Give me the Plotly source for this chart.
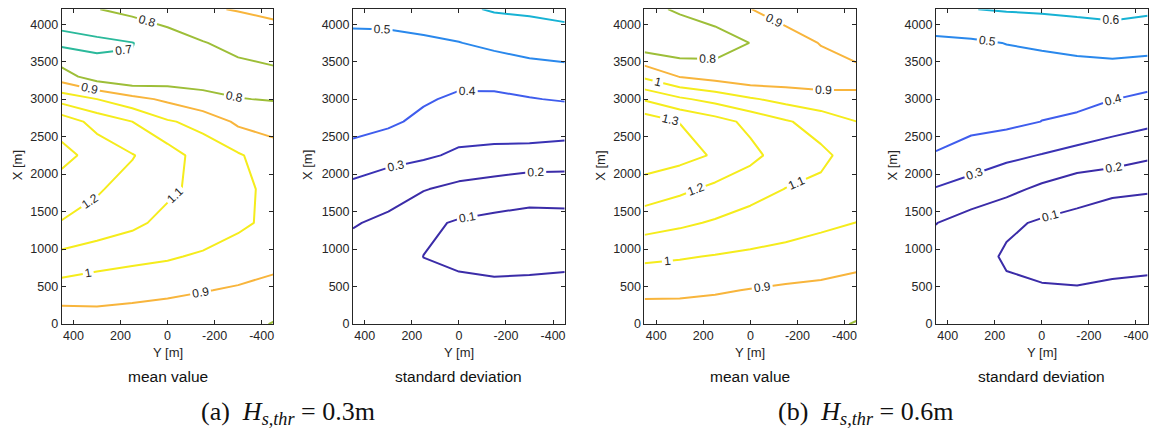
import plotly.graph_objects as go

# Grid: lateral position Y [m] (columns, listed from +450 to -450) and
# along-shore position X [m] (rows, listed from bottom to top)
Y_COLS = [450, 300, 150, 0, -150, -300, -450]
X_ROWS = [0, 450, 900, 1350, 1800, 2250, 2700, 3000, 3300, 3750, 4200]

# (a) Hs,thr = 0.3 m -- mean value
MEAN_03 = [
    [0.835, 0.840, 0.843, 0.835, 0.830, 0.825, 0.796],
    [0.955, 0.955, 0.934, 0.921, 0.904, 0.890, 0.855],
    [1.075, 1.036, 1.026, 1.011, 0.986, 0.955, 0.950],
    [1.195, 1.172, 1.123, 1.070, 1.065, 1.020, 0.975],
    [1.260, 1.208, 1.170, 1.120, 1.070, 1.025, 0.975],
    [1.327, 1.267, 1.205, 1.147, 1.054, 1.010, 0.950],
    [1.260, 1.162, 1.100, 1.010, 0.970, 0.881, 0.855],
    [1.060, 1.000, 0.932, 0.880, 0.820, 0.803, 0.795],
    [0.846, 0.748, 0.709, 0.740, 0.770, 0.760, 0.770],
    [0.680, 0.679, 0.698, 0.740, 0.795, 0.830, 0.862],
    [0.735, 0.797, 0.829, 0.869, 0.890, 0.905, 0.917],
]

# (a) Hs,thr = 0.3 m -- standard deviation
STD_03 = [
    [0.150, 0.140, 0.140, 0.140, 0.140, 0.145, 0.150],
    [0.160, 0.150, 0.130, 0.125, 0.120, 0.125, 0.130],
    [0.175, 0.160, 0.099, 0.080, 0.070, 0.070, 0.075],
    [0.205, 0.185, 0.120, 0.090, 0.075, 0.075, 0.078],
    [0.275, 0.230, 0.205, 0.175, 0.158, 0.130, 0.130],
    [0.360, 0.340, 0.315, 0.284, 0.270, 0.270, 0.265],
    [0.440, 0.415, 0.380, 0.350, 0.360, 0.353, 0.344],
    [0.450, 0.425, 0.410, 0.385, 0.393, 0.396, 0.407],
    [0.465, 0.440, 0.440, 0.426, 0.413, 0.444, 0.450],
    [0.485, 0.480, 0.485, 0.497, 0.527, 0.547, 0.568],
    [0.520, 0.530, 0.550, 0.585, 0.608, 0.614, 0.620],
]

# (b) Hs,thr = 0.6 m -- mean value
MEAN_06 = [
    [0.834, 0.835, 0.835, 0.830, 0.825, 0.820, 0.795],
    [0.923, 0.921, 0.910, 0.896, 0.885, 0.880, 0.851],
    [1.019, 1.008, 0.995, 0.982, 0.966, 0.946, 0.943],
    [1.145, 1.118, 1.090, 1.066, 1.046, 1.022, 0.999],
    [1.256, 1.220, 1.178, 1.133, 1.098, 1.080, 1.050],
    [1.360, 1.334, 1.290, 1.229, 1.150, 1.120, 1.060],
    [1.360, 1.298, 1.241, 1.173, 1.110, 1.060, 1.001],
    [1.190, 1.117, 1.065, 1.012, 0.967, 0.934, 0.920],
    [0.982, 0.897, 0.864, 0.830, 0.840, 0.850, 0.870],
    [0.731, 0.719, 0.741, 0.802, 0.850, 0.905, 0.941],
    [0.770, 0.815, 0.862, 0.898, 0.951, 0.970, 0.990],
]

# (b) Hs,thr = 0.6 m -- standard deviation
STD_06 = [
    [0.140, 0.140, 0.135, 0.130, 0.130, 0.135, 0.140],
    [0.150, 0.145, 0.120, 0.105, 0.105, 0.115, 0.120],
    [0.170, 0.150, 0.085, 0.083, 0.070, 0.070, 0.075],
    [0.202, 0.161, 0.120, 0.087, 0.070, 0.075, 0.075],
    [0.294, 0.259, 0.226, 0.180, 0.140, 0.109, 0.104],
    [0.396, 0.357, 0.321, 0.296, 0.266, 0.255, 0.217],
    [0.428, 0.430, 0.424, 0.399, 0.379, 0.336, 0.321],
    [0.447, 0.447, 0.440, 0.420, 0.429, 0.402, 0.381],
    [0.466, 0.460, 0.460, 0.450, 0.450, 0.455, 0.439],
    [0.477, 0.486, 0.502, 0.515, 0.532, 0.540, 0.538],
    [0.590, 0.598, 0.608, 0.613, 0.621, 0.630, 0.615],
]

PANEL_TITLES = ["mean value", "standard deviation", "mean value", "standard deviation"]
CAPTIONS = ["(a)  <i>H</i><sub><i>s,thr</i></sub> = 0.3m",
            "(b)  <i>H</i><sub><i>s,thr</i></sub> = 0.6m"]
X_TICKS = [400, 200, 0, -200, -400]
X_TICK_TEXT = ["400", "200", "0", "-200", "-400"]
Y_TICKS = [0, 500, 1000, 1500, 2000, 2500, 3000, 3500, 4000]

# contour levels and the line colour of each level
MEAN_LEVELS = [0.6, 0.7, 0.8, 0.9, 1.0, 1.1, 1.2, 1.3, 1.4]
MEAN_COLORS = ["#17a9c9", "#2bb99b", "#9dbe38", "#f8b53c", "#f5ec1c",
               "#f5ec1c", "#f5ec1c", "#f5ec1c", "#f5ec1c"]
STD_LEVELS = [0.1, 0.2, 0.3, 0.4, 0.5, 0.6, 0.7]
STD_COLORS = ["#3b2ca8", "#3b2ca8", "#3a32b4", "#3f5ded", "#2a88ec",
              "#17b2d4", "#2bb99b"]

W, H = 1151, 439
AX_TOP, AX_BOTTOM = 9.3, 329.3
AX_LEFT = [61.7, 353.3, 645.0, 936.7]
AX_WIDTH = 212.0
YLABEL_X = [17, 308, 601, 893]
CAPTION_X = [288, 866]

TEXT = "#262626"
SANS = "Liberation Sans, Arial, sans-serif"
SERIF = "Liberation Serif, Times New Roman, serif"


def scale_for(colors):
    n = len(colors)
    return [[i / (n - 1), c] for i, c in enumerate(colors)]


def label(x_px, y_px, text, size, angle=0, family=SANS, color=TEXT):
    fig.add_annotation(x=x_px / W, y=1 - y_px / H, xref="paper", yref="paper",
                       xanchor="center", yanchor="middle", text=text,
                       textangle=angle, showarrow=False,
                       font=dict(family=family, size=size, color=color))


fig = go.Figure()
panels = [(MEAN_03, MEAN_LEVELS, MEAN_COLORS), (STD_03, STD_LEVELS, STD_COLORS),
          (MEAN_06, MEAN_LEVELS, MEAN_COLORS), (STD_06, STD_LEVELS, STD_COLORS)]

x_asc = Y_COLS[::-1]
for k, (grid, levels, colors) in enumerate(panels):
    z = [row[::-1] for row in grid]
    sfx = "" if k == 0 else str(k + 1)
    fig.add_trace(go.Contour(
        x=x_asc, y=X_ROWS, z=z,
        xaxis="x" + sfx, yaxis="y" + sfx,
        contours=dict(start=levels[0], end=levels[-1], size=0.1,
                      coloring="lines", showlabels=True,
                      labelfont=dict(family=SANS, size=12, color=TEXT)),
        colorscale=scale_for(colors),
        line=dict(width=2, smoothing=0),
        showscale=False, hoverinfo="skip",
    ))

    x0 = AX_LEFT[k] / W
    x1 = (AX_LEFT[k] + AX_WIDTH) / W
    axis_common = dict(showline=True, mirror="allticks", linecolor=TEXT,
                       linewidth=1, ticks="inside", ticklen=4, tickcolor=TEXT,
                       showgrid=False, zeroline=False,
                       tickfont=dict(family=SANS, size=12.5, color=TEXT))
    fig.update_layout({
        "xaxis" + sfx: dict(domain=[x0, x1], range=[450, -450],
                            tickvals=X_TICKS, ticktext=X_TICK_TEXT,
                            anchor="y" + sfx, **axis_common),
        "yaxis" + sfx: dict(domain=[1 - AX_BOTTOM / H, 1 - AX_TOP / H],
                            range=[0, 4200], tickvals=Y_TICKS,
                            anchor="x" + sfx, **axis_common),
    })

    cx = AX_LEFT[k] + AX_WIDTH / 2
    label(YLABEL_X[k], 168, "X [m]", 13, angle=-90)
    label(cx, 358, "Y [m]", 13)
    label(cx, 383, PANEL_TITLES[k], 15.5, color="#111111")

for j, cap in enumerate(CAPTIONS):
    label(CAPTION_X[j], 420, cap, 26, family=SERIF, color="#111111")

fig.update_layout(width=W, height=H, margin=dict(l=0, r=0, t=0, b=0),
                  paper_bgcolor="white", plot_bgcolor="white", showlegend=False)

fig.write_html("out.html")
